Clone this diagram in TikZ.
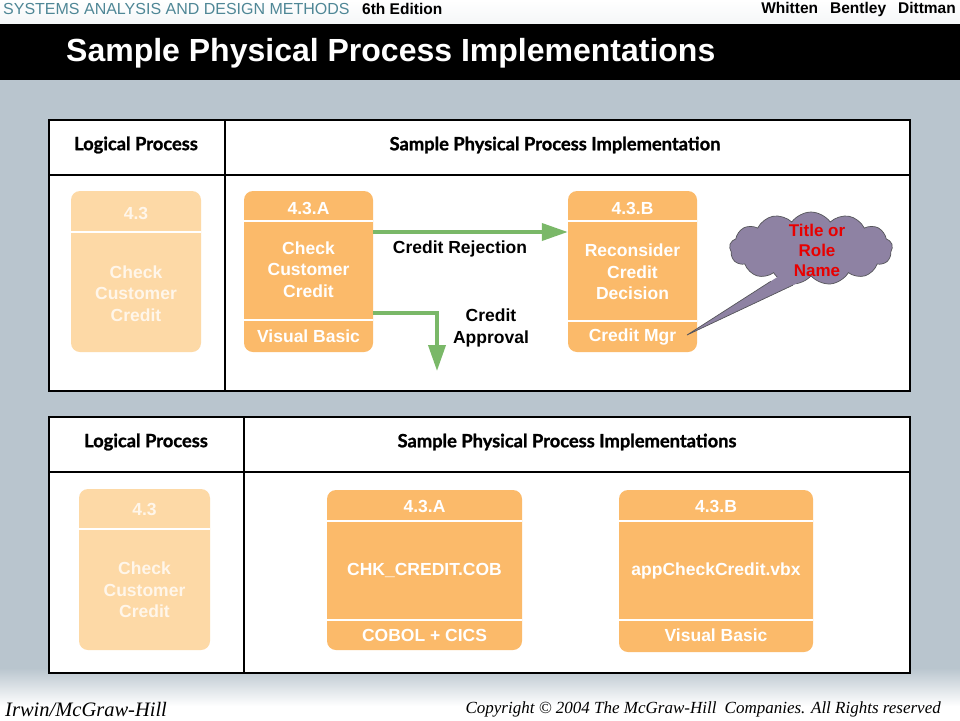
\documentclass[tikz,border=0pt]{standalone}
\usepackage{fontspec}
\setmainfont{Liberation Sans}
\newfontfamily\hdrfont[BoldFeatures={FakeBold=1.2}]{Lato}
\newfontfamily\serifit{Liberation Serif}
\usetikzlibrary{shapes.symbols,arrows.meta,calc}
\definecolor{bgblue}{RGB}{185,197,206}
\definecolor{toptxt}{RGB}{79,135,150}
\definecolor{lightbox}{RGB}{253,217,166}
\definecolor{lighttxt}{RGB}{255,246,234}
\definecolor{orangebox}{RGB}{251,186,106}
\definecolor{arrowgreen}{RGB}{122,184,104}
\definecolor{cloudfill}{RGB}{142,130,163}
\definecolor{cloudline}{RGB}{85,85,90}
\definecolor{rolered}{RGB}{232,0,0}
\tikzset{
  procbox/.style={fill=#1, draw=none, rounded corners=9pt, inner sep=0pt},
  divline/.style={draw=white, line width=1.6pt},
  boxtxt/.style={text=white, font=\fontsize{17.5}{21.5}\selectfont\bfseries, align=center, inner sep=0pt},
  lighttext/.style={boxtxt, text=lighttxt},
  panel/.style={draw=black, line width=2.4pt, fill=white},
  panelline/.style={draw=black, line width=2.2pt},
  hdrtxt/.style={font=\hdrfont\fontsize{18.3}{22}\selectfont\bfseries, inner sep=0pt},
  garrow/.style={draw=arrowgreen, line width=3.8pt, -{Triangle[length=26pt,width=17pt]}},
  flowlbl/.style={font=\fontsize{17.5}{21.5}\selectfont\bfseries, align=center, inner sep=0pt},
}
\begin{document}
\begin{tikzpicture}[x=1pt,y=-1pt]
\useasboundingbox (0,0) rectangle (960,720);
% backgrounds
\fill[bgblue] (0,0) rectangle (960,720);
\shade[top color=white, bottom color=white!85!bgblue] (0,0) rectangle (960,24);
\fill[black] (0,24) rectangle (960,80);
\shade[top color=bgblue, bottom color=white] (0,668) rectangle (960,706);
\fill[white] (0,706) rectangle (960,720);
% header texts
\node[anchor=west, inner sep=0pt, text=toptxt, font=\fontsize{16}{18}\selectfont] (series) at (3,9) {SYSTEMS ANALYSIS AND DESIGN METHODS};
\node[anchor=west, inner sep=0pt, font=\fontsize{15.5}{18}\selectfont\bfseries] (edition) at (362,9) {6th Edition};
\node[anchor=east, inner sep=0pt, font=\fontsize{15.5}{18}\selectfont\bfseries] (authors) at (956,9) {Whitten\hspace{12pt}Bentley\hspace{12pt}Dittman};
\node[anchor=west, inner sep=0pt, text=white, font=\fontsize{32}{36}\selectfont\bfseries] (title) at (66,53) {Sample Physical Process Implementations};
% footer
\node[anchor=west, inner sep=0pt, font=\serifit\itshape\fontsize{20.5}{22}\selectfont] (pub) at (5,709) {Irwin/McGraw-Hill};
\node[anchor=east, inner sep=0pt, font=\serifit\itshape\fontsize{17}{19}\selectfont] (copy) at (941,709) {Copyright \textcopyright{} 2004 The McGraw-Hill\hspace{4pt} Companies. All Rights reserved};

% ===== top panel =====
\draw[panel] (49,120) rectangle (910,391);
\draw[panelline] (49,175) -- (910,175);
\draw[panelline] (225,120) -- (225,391);
\node[hdrtxt] (h1a) at (136,145) {Logical Process};
\node[hdrtxt] (h1b) at (555,145) {Sample Physical Process Implementation};

% logical box top
\node[procbox=lightbox, minimum width=130pt, minimum height=161pt] (lp1) at (136,271.5) {};
\draw[divline] ([yshift=-41pt]lp1.north west) -- ([yshift=-41pt]lp1.north east);
\node[lighttext] (lp1id) at (136,213) {4.3};
\node[lighttext] (lp1nm) at (136,293.5) {Check\\Customer\\Credit};

% 4.3.A top
\node[procbox=orangebox, minimum width=129pt, minimum height=161pt] (pa) at (308.5,271.5) {};
\draw[divline] ([yshift=-30pt]pa.north west) -- ([yshift=-30pt]pa.north east);
\draw[divline] ([yshift=32pt]pa.south west) -- ([yshift=32pt]pa.south east);
\node[boxtxt] (paid) at (308.5,208) {4.3.A};
\node[boxtxt] (panm) at (308.5,269.5) {Check\\Customer\\Credit};
\node[boxtxt] (paloc) at (308.5,336) {Visual Basic};

% 4.3.B top
\node[procbox=orangebox, minimum width=129pt, minimum height=161pt] (pb) at (632.5,271.5) {};
\draw[divline] ([yshift=-30pt]pb.north west) -- ([yshift=-30pt]pb.north east);
\draw[divline] ([yshift=31pt]pb.south west) -- ([yshift=31pt]pb.south east);
\node[boxtxt] (pbid) at (632.5,208) {4.3.B};
\node[boxtxt] (pbnm) at (632.5,272) {Reconsider\\Credit\\Decision};
\node[boxtxt] (pbloc) at (632.5,337) {Credit Mgr};

% flows
\draw[garrow] ([yshift=39.5pt]pa.east) -- ([yshift=39.5pt]pb.west);
\coordinate (apEnd) at (437,371);
\draw[garrow] ([yshift=-41.5pt]pa.east) -| (apEnd);
\node[flowlbl] (rejlbl) at (460,249) {Credit Rejection};
\node[flowlbl] (applbl) at (491,328) {Credit\\Approval};

% cloud callout
\node[cloud, cloud puffs=13, cloud puff arc=110, aspect=2.2, fill=cloudfill, draw=cloudline, line width=0.7pt, minimum width=163pt, minimum height=73pt, inner sep=0pt] (cl) at (811,248.5) {};
\coordinate (tb1) at (779,276);
\coordinate (tb2) at (806,279);
\coordinate (tip) at (687,335);
\fill[cloudfill] (tb1) -- (tip) -- (tb2) -- cycle;
\draw[cloudline, line width=0.7pt] ($(tb1)!0.09!(tip)$) -- (tip) -- ($(tb2)!0.11!(tip)$);
\node[text=rolered, align=center, inner sep=0pt, font=\fontsize{17}{20}\selectfont\bfseries] (role) at (817,250) {Title or\\Role\\Name};

% ===== bottom panel =====
\draw[panel] (49,417) rectangle (910,673);
\draw[panelline] (49,472) -- (910,472);
\draw[panelline] (244,417) -- (244,673);
\node[hdrtxt] (h2a) at (146,442) {Logical Process};
\node[hdrtxt] (h2b) at (567,442) {Sample Physical Process Implementations};

% logical box bottom
\node[procbox=lightbox, minimum width=131pt, minimum height=161pt] (lp2) at (144.5,569.5) {};
\draw[divline] ([yshift=-40pt]lp2.north west) -- ([yshift=-40pt]lp2.north east);
\node[lighttext] (lp2id) at (144.5,509) {4.3};
\node[lighttext] (lp2nm) at (144.5,590) {Check\\Customer\\Credit};

% 4.3.A bottom
\node[procbox=orangebox, minimum width=195pt, minimum height=160pt] (qa) at (424.5,570) {};
\draw[divline] ([yshift=-31pt]qa.north west) -- ([yshift=-31pt]qa.north east);
\draw[divline] ([yshift=30pt]qa.south west) -- ([yshift=30pt]qa.south east);
\node[boxtxt] (qaid) at (424.5,506) {4.3.A};
\node[boxtxt] (qanm) at (424.5,570) {CHK\_CREDIT.COB};
\node[boxtxt] (qaloc) at (424.5,635) {COBOL + CICS};

% 4.3.B bottom
\node[procbox=orangebox, minimum width=194pt, minimum height=162pt] (qb) at (716,571) {};
\draw[divline] ([yshift=-31pt]qb.north west) -- ([yshift=-31pt]qb.north east);
\draw[divline] ([yshift=32pt]qb.south west) -- ([yshift=32pt]qb.south east);
\node[boxtxt] (qbid) at (716,506) {4.3.B};
\node[boxtxt] (qbnm) at (716,571) {appCheckCredit.vbx};
\node[boxtxt] (qbloc) at (716,635) {Visual Basic};
\end{tikzpicture}
\end{document}
